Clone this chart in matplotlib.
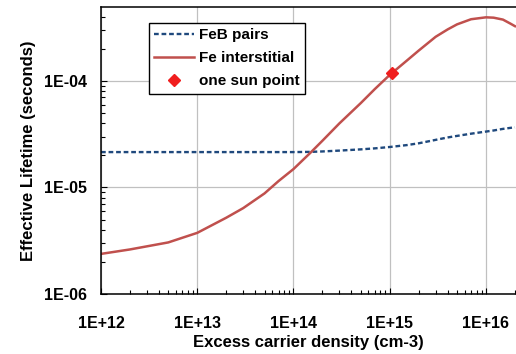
import numpy as np
import matplotlib
matplotlib.use("Agg")
import matplotlib.pyplot as plt
from matplotlib.ticker import FixedLocator, FuncFormatter, LogLocator, NullFormatter

plt.rcParams['font.family'] = ['Liberation Sans', 'DejaVu Sans']
plt.rcParams['font.weight'] = 'bold'
plt.rcParams['font.size'] = 11

# Excess carrier density (cm-3)
density = np.array([1e12, 2e12, 5e12, 1e13, 2e13, 3e13, 5e13, 7e13, 1e14, 1.5e14,
                    2e14, 3e14, 5e14, 7e14, 1e15, 1.5e15, 2e15, 3e15, 4e15, 5e15,
                    7e15, 1e16, 1.2e16, 1.5e16, 1.8e16, 2e16])

# Effective lifetime (s) with iron paired with boron
tau_feb = np.array([2.15e-5, 2.15e-5, 2.15e-5, 2.15e-5, 2.15e-5, 2.15e-5, 2.15e-5, 2.15e-5,
                    2.15e-5, 2.16e-5, 2.18e-5, 2.22e-5, 2.28e-5, 2.33e-5, 2.4e-5, 2.5e-5,
                    2.6e-5, 2.8e-5, 2.95e-5, 3.05e-5, 3.2e-5, 3.35e-5, 3.43e-5, 3.55e-5,
                    3.63e-5, 3.67e-5])

# Effective lifetime (s) with interstitial iron
tau_fei = np.array([2.38e-6, 2.62e-6, 3.05e-6, 3.75e-6, 5.2e-6, 6.4e-6, 8.8e-6, 1.15e-5,
                    1.49e-5, 2.12e-5, 2.75e-5, 4.0e-5, 6.2e-5, 8.4e-5, 1.14e-4, 1.55e-4,
                    1.93e-4, 2.6e-4, 3.05e-4, 3.4e-4, 3.8e-4, 3.96e-4, 3.93e-4, 3.77e-4,
                    3.45e-4, 3.27e-4])

# Operating point at one sun
sun_density = [1.06e15]
sun_tau = [1.2e-4]

fig = plt.figure(figsize=(5.16, 3.54), dpi=100)
ax = fig.add_axes([101 / 516, 60 / 354, 415 / 516, 287 / 354])

ax.plot(density, tau_feb, color='#1F497D', lw=1.7, linestyle=(0, (2, 1.2)),
        dash_capstyle='butt', label='FeB pairs')
ax.plot(density, tau_fei, color='#C0504D', lw=1.8, label='Fe interstitial')
ax.plot(sun_density, sun_tau, linestyle='none', marker='D', markersize=6,
        color='#F01E1E', label='one sun point')

ax.set_xscale('log')
ax.set_yscale('log')
ax.set_xlim(1e12, 2.05e16)
ax.set_ylim(1e-6, 4.95e-4)

sci = FuncFormatter(lambda v, pos: f"1E{int(round(np.log10(v))):+03d}")
ax.xaxis.set_major_locator(FixedLocator([1e12, 1e13, 1e14, 1e15, 1e16]))
ax.yaxis.set_major_locator(FixedLocator([1e-6, 1e-5, 1e-4]))
ax.xaxis.set_major_formatter(sci)
ax.yaxis.set_major_formatter(sci)
ax.xaxis.set_minor_locator(LogLocator(base=10, subs=np.arange(2, 10), numticks=20))
ax.yaxis.set_minor_locator(LogLocator(base=10, subs=np.arange(2, 10), numticks=20))
ax.xaxis.set_minor_formatter(NullFormatter())
ax.yaxis.set_minor_formatter(NullFormatter())

ax.tick_params(which='both', direction='in', top=False, right=False, width=0.8)
ax.tick_params(which='major', length=4)
ax.tick_params(which='minor', length=3)
ax.tick_params(axis='x', which='major', pad=16, labelsize=11.5)
ax.tick_params(axis='y', which='major', pad=10, labelsize=11.5)

ax.grid(True, which='major', color='#C0C0C0', lw=0.9)
ax.set_axisbelow(True)

for side in ['left', 'bottom', 'top']:
    ax.spines[side].set_color('black')
    ax.spines[side].set_linewidth(1.1)
ax.spines['right'].set_visible(False)

ax.set_xlabel('Excess carrier density (cm-3)', fontweight='bold', fontsize=12, labelpad=3)
ax.set_ylabel('Effective Lifetime (seconds)', fontweight='bold', fontsize=12, labelpad=6)

leg = ax.legend(loc='upper left', bbox_to_anchor=(0.1157, 0.945), borderaxespad=0,
                fancybox=False, framealpha=1, edgecolor='black', handlelength=2.6,
                handletextpad=0.35, labelspacing=0.6, borderpad=0.35,
                prop={'weight': 'bold', 'size': 11})
leg.get_frame().set_linewidth(1.0)

fig.savefig('out.png', dpi=100)
